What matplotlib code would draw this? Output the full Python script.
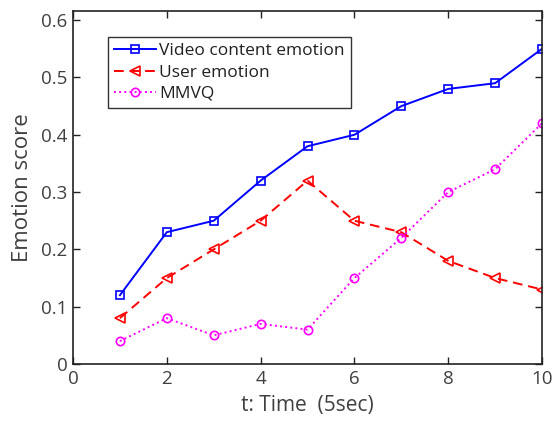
import matplotlib
matplotlib.use("Agg")
import matplotlib.pyplot as plt

t = [1, 2, 3, 4, 5, 6, 7, 8, 9, 10]
video = [0.12, 0.23, 0.25, 0.32, 0.38, 0.40, 0.45, 0.48, 0.49, 0.55]
user = [0.08, 0.15, 0.20, 0.25, 0.32, 0.25, 0.23, 0.18, 0.15, 0.13]
mmvq = [0.04, 0.08, 0.05, 0.07, 0.06, 0.15, 0.22, 0.30, 0.34, 0.42]
labels = ["Video content emotion", "User emotion", "MMVQ"]

plt.rcParams['font.family'] = ['Open Sans', 'DejaVu Sans']
txt = '#404040'

fig = plt.figure(figsize=(5.53, 4.29), dpi=100)
ax = fig.add_axes([73/553, 1-364/429, (542-73)/553, (364-11)/429])

ax.plot(t, video, color='#0000ff', lw=1.4, marker='s', ms=6, mfc='none', mew=1.2, label=labels[0])
ax.plot(t, user, color='#ff0000', lw=1.4, ls=(0, (5, 3)), marker='<', ms=7, mfc='none', mew=1.2, label=labels[1])
ax.plot(t, mmvq, color='#ff00ff', lw=1.4, ls=':', marker='o', ms=6, mfc='none', mew=1.2, label=labels[2])

ax.set_xlim(0, 10)
ax.set_ylim(0, 0.616)
ax.set_xticks([0, 2, 4, 6, 8, 10])
ax.set_yticks([0, 0.1, 0.2, 0.3, 0.4, 0.5, 0.6])
ax.set_yticklabels(['0', '0.1', '0.2', '0.3', '0.4', '0.5', '0.6'])
ax.tick_params(direction='in', length=5, width=1, labelsize=13.5, colors=txt, top=True, right=True, pad=4)
ax.tick_params(color='#222222')
for s in ax.spines.values():
    s.set_linewidth(1.2)
    s.set_color('#222222')
ax.set_xlabel('t: Time  (5sec)', fontsize=15, color=txt, labelpad=5)
ax.set_ylabel('Emotion score', fontsize=16, color=txt, labelpad=6)

leg = ax.legend(loc='upper left', bbox_to_anchor=(35/469, (364-37)/353), fontsize=12.5, frameon=True, fancybox=False,
                edgecolor='#000000', handlelength=2.4, borderpad=0.35, labelspacing=0.3, handletextpad=0.2,
                borderaxespad=0)
leg.get_frame().set_linewidth(1.0)
for tx in leg.get_texts():
    tx.set_color('#202020')

fig.savefig('out.png', dpi=100)
